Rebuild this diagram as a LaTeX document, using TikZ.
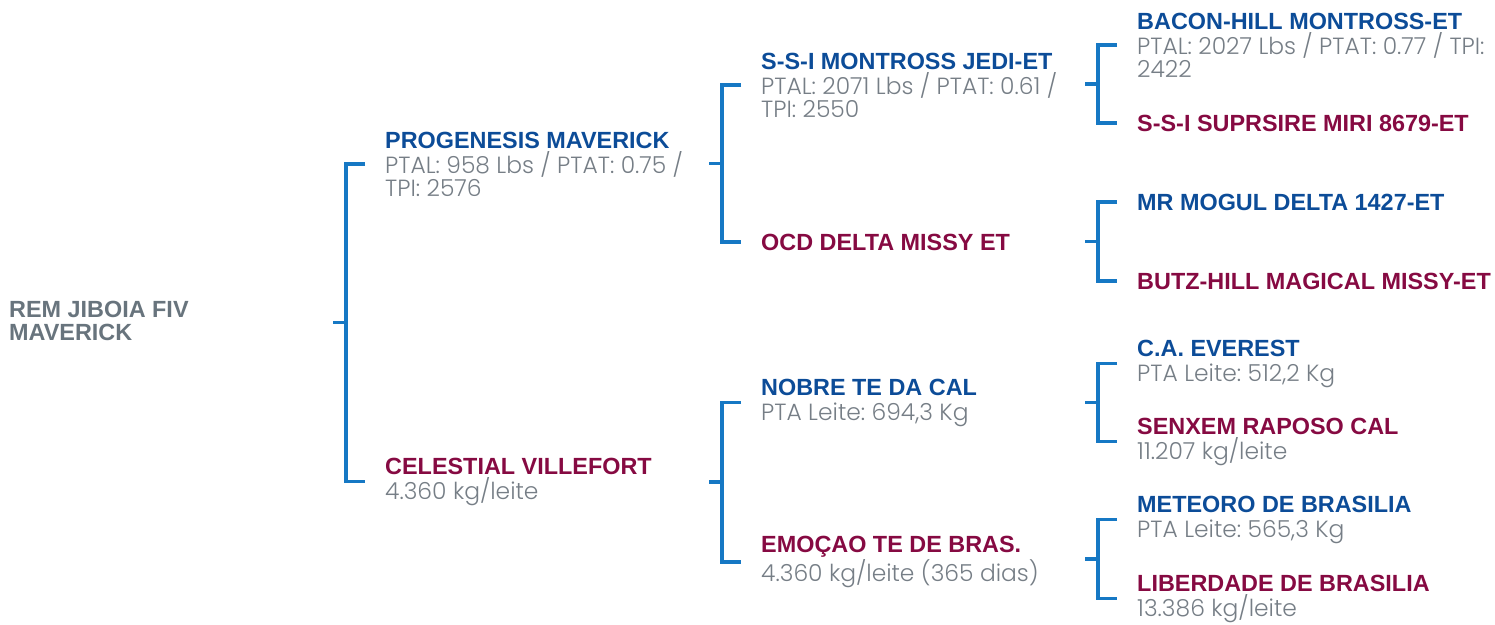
\documentclass[tikz,border=0pt]{standalone}
\usepackage{fontspec}
\setmainfont{Liberation Sans}
\newfontfamily\datafont{Poppins}[UprightFont={* Light}]
\usetikzlibrary{positioning,calc}
\frenchspacing

\definecolor{sireblue}{RGB}{12,76,152}
\definecolor{dammaroon}{RGB}{134,10,66}
\definecolor{infogray}{RGB}{118,126,134}
\definecolor{rootgray}{RGB}{104,116,125}
\definecolor{linkblue}{RGB}{22,120,196}

\newcommand{\nm}[1]{{\fontsize{23.4}{23}\selectfont\bfseries #1}}
\newcommand{\info}[1]{{\datafont\color{infogray}#1}}

\begin{document}
\begin{tikzpicture}[x=1pt, y=-1pt,
  every node/.style={inner sep=0pt, align=left, anchor=north west, font=\fontsize{23.4}{23}\selectfont},
  root/.style={text=rootgray},
  sire/.style={text=sireblue},
  dam/.style={text=dammaroon},
  link/.style={draw=linkblue, line width=3.5pt}]

  \useasboundingbox (0,0) rectangle (1495,624);

  % animal
  \node[root] (jiboia) at (9,300.5) {\nm{REM JIBOIA FIV}\\\nm{MAVERICK}};

  % parents
  \node[sire] (progenesis) at (385,131.5) {\nm{PROGENESIS MAVERICK}\\[2pt]\info{PTAL: 958 Lbs / PTAT: 0.75 /}\\\info{TPI: 2576}};
  \node[dam] (celestial) at (385,457.5) {\nm{CELESTIAL VILLEFORT}\\[2pt]\info{4.360 kg/leite}};

  % grandparents
  \node[sire] (jedi) at (761,52.5) {\nm{S-S-I MONTROSS JEDI-ET}\\[2pt]\info{PTAL: 2071 Lbs / PTAT: 0.61 /}\\\info{TPI: 2550}};
  \node[dam] (ocd) at (761,233.5) {\nm{OCD DELTA MISSY ET}};
  \node[sire] (nobre) at (761,378.5) {\nm{NOBRE TE DA CAL}\\[2pt]\info{PTA Leite: 694,3 Kg}};
  \node[dam] (emocao) at (761,535.5) {\nm{EMOÇAO TE DE BRAS.}\\[2pt]\info{4.360 kg/leite (365 dias)}};

  % great-grandparents
  \node[sire] (bacon) at (1137,12.5) {\nm{BACON-HILL MONTROSS-ET}\\[2pt]\info{PTAL: 2027 Lbs / PTAT: 0.77 / TPI:}\\\info{2422}};
  \node[dam] (miri) at (1137,114.5) {\nm{S-S-I SUPRSIRE MIRI 8679-ET}};
  \node[sire] (mogul) at (1137,193.5) {\nm{MR MOGUL DELTA 1427-ET}};
  \node[dam] (butz) at (1137,272.5) {\nm{BUTZ-HILL MAGICAL MISSY-ET}};
  \node[sire] (everest) at (1137,339.5) {\nm{C.A. EVEREST}\\[2pt]\info{PTA Leite: 512,2 Kg}};
  \node[dam] (senxem) at (1137,417.5) {\nm{SENXEM RAPOSO CAL}\\[2pt]\info{11.207 kg/leite}};
  \node[sire] (meteoro) at (1137,495.5) {\nm{METEORO DE BRASILIA}\\[2pt]\info{PTA Leite: 565,3 Kg}};
  \node[dam] (liberdade) at (1137,574.5) {\nm{LIBERDADE DE BRASILIA}\\[2pt]\info{13.386 kg/leite}};

  % brackets
  \draw[link] ([xshift=-20pt]progenesis.west) -| ([xshift=-39pt]celestial.west) -- ([xshift=-20pt]celestial.west);
  \draw[link] ($(progenesis.west)!0.5!(celestial.west)$) ++(-39pt,0) -- ++(-13pt,0);

  \draw[link] ([xshift=-20pt]jedi.west) -| ([xshift=-39pt]ocd.west) -- ([xshift=-20pt]ocd.west);
  \draw[link] ($(jedi.west)!0.5!(ocd.west)$) ++(-39pt,0) -- ++(-13pt,0);
  \draw[link] ([xshift=-20pt]nobre.west) -| ([xshift=-39pt]emocao.west) -- ([xshift=-20pt]emocao.west);
  \draw[link] ($(nobre.west)!0.5!(emocao.west)$) ++(-39pt,0) -- ++(-13pt,0);

  \draw[link] ([xshift=-20pt]bacon.west) -| ([xshift=-39pt]miri.west) -- ([xshift=-20pt]miri.west);
  \draw[link] ($(bacon.west)!0.5!(miri.west)$) ++(-39pt,0) -- ++(-13pt,0);
  \draw[link] ([xshift=-20pt]mogul.west) -| ([xshift=-39pt]butz.west) -- ([xshift=-20pt]butz.west);
  \draw[link] ($(mogul.west)!0.5!(butz.west)$) ++(-39pt,0) -- ++(-13pt,0);
  \draw[link] ([xshift=-20pt]everest.west) -| ([xshift=-39pt]senxem.west) -- ([xshift=-20pt]senxem.west);
  \draw[link] ($(everest.west)!0.5!(senxem.west)$) ++(-39pt,0) -- ++(-13pt,0);
  \draw[link] ([xshift=-20pt]meteoro.west) -| ([xshift=-39pt]liberdade.west) -- ([xshift=-20pt]liberdade.west);
  \draw[link] ($(meteoro.west)!0.5!(liberdade.west)$) ++(-39pt,0) -- ++(-13pt,0);
\end{tikzpicture}
\end{document}
